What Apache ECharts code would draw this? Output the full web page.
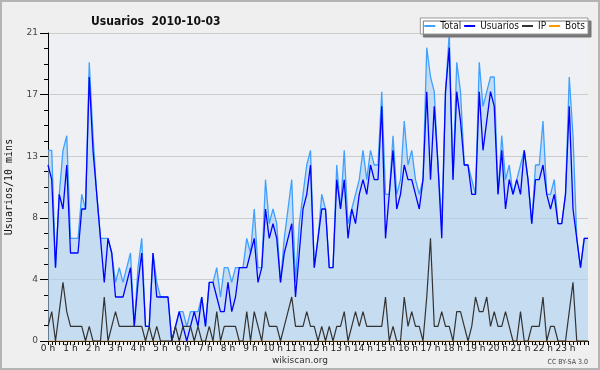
<!DOCTYPE html>
<html><head><meta charset="utf-8">
<script src="https://cdn.jsdelivr.net/npm/echarts@6/dist/echarts.min.js"></script>
<style>html,body{margin:0;padding:0;background:#efefef;}#c{width:600px;height:370px;box-sizing:border-box;border:2px solid #b4b4b4;}</style>
</head><body><div id="c"></div>
<script>
var hourLabels = [];
for (var h = 0; h < 24; h++) hourLabels.push(h + ' h');
var times = [];
for (var k = 0; k <= 144; k++) { var hh = Math.floor(k / 6), mm = (k % 6) * 10; times.push((hh < 10 ? '0' : '') + hh + ':' + (mm < 10 ? '0' : '') + mm); }
var total = [13,13,5,10,13,14,7,7,7,10,9,19,14,10,7,7,7,6,4,5,4,5,6,1,5,7,1,1,6,4,3,3,3,0,1,2,2,1,2,2,2,3,1,4,4,5,3,5,5,4,5,5,
  5,7,6,9,5,5,11,8,9,8,4,7,9,11,4,8,10,12,13,5,7,10,9,5,5,12,9,13,8,9,10,11,
  13,11,13,12,12,17,10,10,14,10,11,15,12,13,11,10,11,20,18,17,12,8,17,21,11,19,17,12,12,11,
  10,19,16,17,18,18,10,14,11,12,10,11,12,13,11,8,12,12,15,10,10,11,8,8,10,18,14,7,5,7,7];
var usuarios = [12,11,5,10,9,12,6,6,6,9,9,18,13,10,7,4,7,6,3,3,3,4,5,1,4,6,1,1,6,3,3,3,3,0,1,2,1,0,1,2,1,3,1,4,4,3,2,2,4,2,3,5,
  5,5,6,7,4,5,9,7,8,7,4,6,7,8,3,6,9,10,12,5,7,9,9,5,5,11,9,11,7,9,8,10,
  11,10,12,11,11,16,7,10,13,9,10,12,11,11,10,9,11,17,11,16,12,7,17,20,11,17,15,12,12,10,
  10,17,13,15,17,16,10,13,9,11,10,11,10,13,11,8,11,11,12,10,9,10,8,8,10,16,9,7,5,7,7];
var ip = [1,2,0,2,4,2,1,1,1,1,0,1,0,0,0,3,0,1,2,1,1,1,1,1,1,1,0,1,0,1,0,0,0,0,1,0,1,1,1,0,1,0,0,1,0,2,0,1,1,1,1,0,
  0,2,0,2,1,0,2,1,1,1,0,1,2,3,1,1,1,2,1,1,0,1,0,1,0,1,1,2,0,1,2,1,
  2,1,1,1,1,1,3,0,1,0,0,3,1,2,1,1,0,3,7,1,1,2,1,1,0,2,2,1,0,1,
  3,2,2,3,1,2,1,1,2,1,0,0,2,0,0,1,1,1,3,0,1,1,0,0,0,2,4,0,0,0,0];
var bots = [];
for (var b = 0; b < times.length; b++) bots.push(0);

var chart = echarts.init(document.getElementById('c'), null, {renderer: 'canvas'});
var FONT = 'DejaVu Sans';
var CFONT = '"DejaVu Sans Condensed", "DejaVu Sans"';
chart.setOption({
  backgroundColor: '#efefef',
  animation: false,
  title: {
    text: 'Usuarios  2010-10-03', left: 84, top: 9,
    textStyle: {fontFamily: CFONT, fontSize: 12, fontWeight: 'bold', color: '#111'}
  },
  legend: {
    top: 16, right: 10, orient: 'horizontal',
    backgroundColor: '#fff', borderColor: '#999', borderWidth: 1,
    shadowColor: '#777', shadowOffsetX: 3, shadowOffsetY: 3, shadowBlur: 0,
    padding: [3, 3, 3, 4], itemGap: 3, itemWidth: 11, itemHeight: 2,
    icon: 'rect',
    textStyle: {fontFamily: CFONT, fontSize: 10, color: '#111', padding: [0, 0, 0, 0]},
    data: ['Total', 'Usuarios', 'IP', 'Bots']
  },
  grid: {left: 46, right: 10, top: 31, bottom: 27, show: true, backgroundColor: '#eef0f3', borderWidth: 0,
    containLabel: false, outerBoundsMode: 'none'},
  xAxis: {
    type: 'category', data: times, boundaryGap: false,
    axisLine: {lineStyle: {color: '#000', width: 1}},
    axisTick: {show: true, interval: 0, length: 4, lineStyle: {color: '#000'}},
    axisLabel: {
      interval: function (idx) { return idx % 6 === 0 && idx < 144; },
      formatter: function (v, idx) { return hourLabels[idx / 6] || ''; },
      fontFamily: FONT, fontSize: 9, color: '#222', margin: 3
    },
    splitLine: {show: false}
  },
  yAxis: {
    type: 'value', min: 0, max: 21, interval: 4.2,
    name: 'Usuarios/10 mins', nameLocation: 'middle', nameGap: 34, nameRotate: 90,
    nameTextStyle: {fontFamily: 'DejaVu Sans Mono', fontSize: 10, color: '#111'},
    axisLine: {show: true, lineStyle: {color: '#000', width: 1}},
    axisTick: {show: true, length: 8, lineStyle: {color: '#000'}},
    minorTick: {show: true, splitNumber: 4, length: 4, lineStyle: {color: '#000'}},
    axisLabel: {formatter: function (v) { return Math.round(v); }, fontFamily: FONT, fontSize: 9, color: '#444', margin: 10},
    splitLine: {show: true, lineStyle: {color: '#cccccc', width: 1}}
  },
  series: [
    {name: 'Bots', type: 'line', data: bots, symbol: 'none', lineStyle: {color: '#ff9900', width: 1}, itemStyle: {color: '#ff9900'}, z: 1},
    {name: 'Total', type: 'line', data: total, symbol: 'none', lineStyle: {color: '#3fa0ff', width: 1.3}, itemStyle: {color: '#3fa0ff'},
      areaStyle: {color: 'rgba(171,207,238,0.6)', opacity: 1}, z: 2},
    {name: 'Usuarios', type: 'line', data: usuarios, symbol: 'none', lineStyle: {color: '#0000ff', width: 1.3}, itemStyle: {color: '#0000ff'}, z: 3},
    {name: 'IP', type: 'line', data: ip, symbol: 'none', lineStyle: {color: '#333333', width: 1.2}, itemStyle: {color: '#333333'}, z: 4}
  ],
  graphic: [
    {type: 'text', left: 'center', top: 354, style: {text: 'wikiscan.org', fontFamily: FONT, fontSize: 9, fill: '#333'}},
    {type: 'text', right: 10, top: 357, style: {text: 'CC BY-SA 3.0', fontFamily: CFONT, fontSize: 7, fill: '#444'}}
  ]
});
</script></body></html>
